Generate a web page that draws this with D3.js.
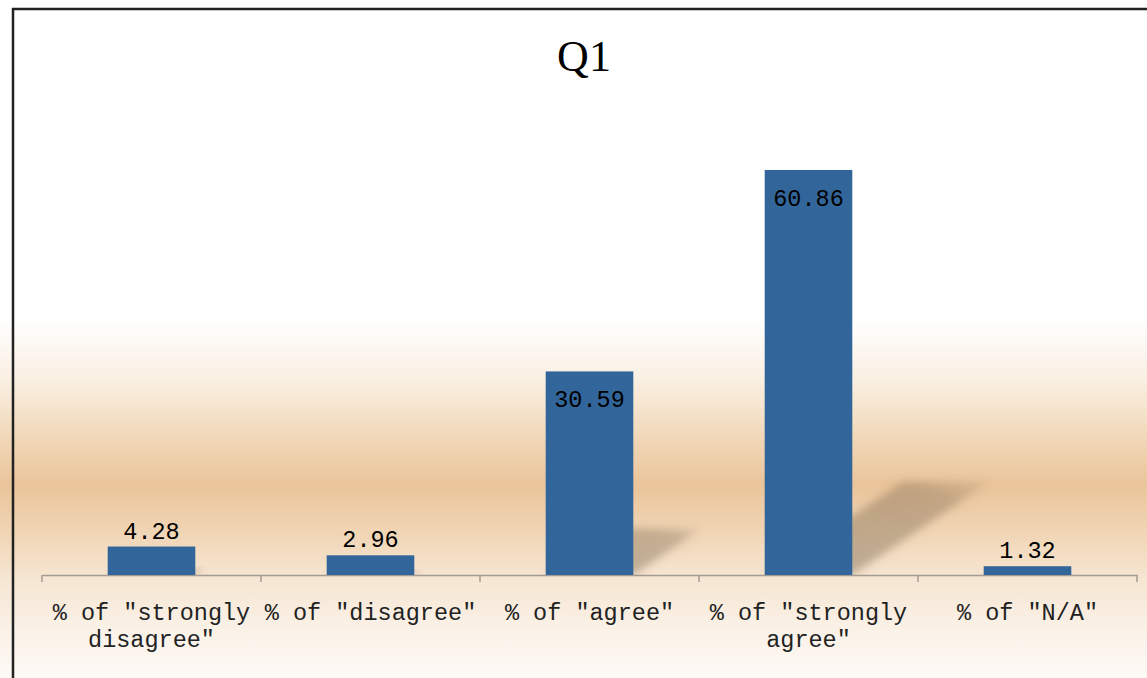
<!DOCTYPE html>
<html>
<head>
<meta charset="utf-8">
<script src="https://cdn.jsdelivr.net/npm/d3@7"></script>
<style>
  html, body { margin: 0; padding: 0; background: #fff; }
  svg { display: block; }
</style>
</head>
<body>
<div id="chart"></div>
<script>
// data
var title = 'Q1';
var categories = ['% of "strongly disagree"', '% of "disagree"', '% of "agree"', '% of "strongly agree"', '% of "N/A"'];
var values = [4.28, 2.96, 30.59, 60.86, 1.32];
var yDomain = [0, 70];

var W = 1147, H = 678,
    base = 575, left = 42, right = 1137,
    monoFont = '"Liberation Mono", "DejaVu Sans Mono", monospace';

var svg = d3.select('#chart').append('svg')
    .attr('width', W)
    .attr('height', H);

var defs = svg.append('defs');

// background gradient (white -> tan band -> pale)
var bg = defs.append('linearGradient')
    .attr('id', 'bg')
    .attr('x1', 0).attr('y1', 0).attr('x2', 0).attr('y2', 1);
[[0, '#ffffff'], [0.47, '#ffffff'], [0.56, '#faefe2'], [0.645, '#f1d8b9'],
 [0.715, '#eac49a'], [0.78, '#f0d4b3'], [0.855, '#f6e6d3'], [0.94, '#fbf3ea'], [1, '#fdf9f5']]
  .forEach(function(s) {
    bg.append('stop').attr('offset', s[0]).attr('stop-color', s[1]);
  });

var blur = defs.append('filter').attr('id', 'blur')
    .attr('x', '-30%').attr('y', '-30%').attr('width', '160%').attr('height', '160%');
blur.append('feGaussianBlur').attr('stdDeviation', 4);

var shadeGrad = defs.append('linearGradient')
    .attr('id', 'shade')
    .attr('x1', 0).attr('y1', 1).attr('x2', 1).attr('y2', 0);
shadeGrad.append('stop').attr('offset', 0).attr('stop-color', '#6e5a42').attr('stop-opacity', 0.42);
shadeGrad.append('stop').attr('offset', 0.8).attr('stop-color', '#6e5a42').attr('stop-opacity', 0.34);
shadeGrad.append('stop').attr('offset', 1).attr('stop-color', '#6e5a42').attr('stop-opacity', 0.08);

defs.append('clipPath').attr('id', 'above')
  .append('rect').attr('x', 0).attr('y', 0).attr('width', W).attr('height', base);

svg.append('rect')
    .attr('x', 0).attr('y', 0)
    .attr('width', W).attr('height', H)
    .attr('fill', 'url(#bg)');

// scales
var x = d3.scaleBand()
    .domain(categories)
    .range([left, right])
    .paddingInner(0.6)
    .paddingOuter(0.3);

var y = d3.scaleLinear()
    .domain(yDomain)
    .range([base, base - 70 * 6.655]);

// shadows behind the bars
svg.append('g')
    .attr('clip-path', 'url(#above)')
  .selectAll('path')
  .data(values)
  .enter().append('path')
    .attr('filter', 'url(#blur)')
    .attr('fill', 'url(#shade)')
    .attr('d', function(d, i) {
      var x0 = x(categories[i]), x1 = x0 + x.bandwidth(),
          h = base - y(d), s = 0.34 * h, t = 0.23 * h;
      return 'M' + x0 + ',' + base + 'L' + x1 + ',' + base
        + 'L' + (x1 + s) + ',' + (base - t) + 'L' + (x0 + s) + ',' + (base - t) + 'Z';
    });

// axis
var axis = svg.append('g')
    .attr('transform', 'translate(0,' + base + ')')
    .call(d3.axisBottom(x).tickSize(0).tickFormat(''));
axis.select('.domain').attr('stroke', '#a39c92').attr('stroke-width', 1.5);

// ticks on category boundaries
svg.append('g').selectAll('line')
  .data(d3.range(categories.length + 1))
  .enter().append('line')
    .attr('x1', function(i) { return left + i * x.step(); })
    .attr('x2', function(i) { return left + i * x.step(); })
    .attr('y1', base)
    .attr('y2', base + 7)
    .attr('stroke', '#a39c92')
    .attr('stroke-width', 1.5);

// bars
svg.append('g').selectAll('rect')
  .data(values)
  .enter().append('rect')
    .attr('x', function(d, i) { return x(categories[i]); })
    .attr('y', function(d) { return y(d); })
    .attr('width', x.bandwidth())
    .attr('height', function(d) { return base - y(d); })
    .attr('fill', '#32669a');

// value labels
svg.append('g').selectAll('text')
  .data(values)
  .enter().append('text')
    .attr('x', function(d, i) { return x(categories[i]) + x.bandwidth() / 2; })
    .attr('y', function(d) { return base - y(d) > 60 ? y(d) + 36 : y(d) - 8; })
    .attr('text-anchor', 'middle')
    .attr('font-family', monoFont)
    .attr('font-size', 23.5)
    .attr('fill', '#000')
    .text(function(d) { return d.toFixed(2); });

// category labels, wrapped to the band step
var labels = svg.append('g').selectAll('text')
  .data(categories)
  .enter().append('text')
    .attr('x', function(d) { return x(d) + x.bandwidth() / 2; })
    .attr('y', 620)
    .attr('text-anchor', 'middle')
    .attr('font-family', monoFont)
    .attr('font-size', 23.5)
    .attr('fill', '#222');

labels.each(function(d) {
  var el = d3.select(this),
      words = d.split(' '),
      line = [],
      cx = el.attr('x'),
      tspan = el.append('tspan').attr('x', cx).attr('dy', 0);
  words.forEach(function(w) {
    line.push(w);
    tspan.text(line.join(' '));
    if (tspan.node().getComputedTextLength() > x.step() - 4 && line.length > 1) {
      line.pop();
      tspan.text(line.join(' '));
      line = [w];
      tspan = el.append('tspan').attr('x', cx).attr('dy', 27).text(w);
    }
  });
});

// title
svg.append('text')
    .attr('x', 584)
    .attr('y', 71)
    .attr('text-anchor', 'middle')
    .attr('font-family', '"Liberation Serif", "DejaVu Serif", serif')
    .attr('font-size', 44)
    .attr('fill', '#000')
    .text(title);

// frame (top and left edges visible)
svg.append('path')
    .attr('d', 'M13,' + (H + 2) + 'L13,9L' + (W + 2) + ',9')
    .attr('fill', 'none')
    .attr('stroke', '#222')
    .attr('stroke-width', 2.5);
</script>
</body>
</html>
